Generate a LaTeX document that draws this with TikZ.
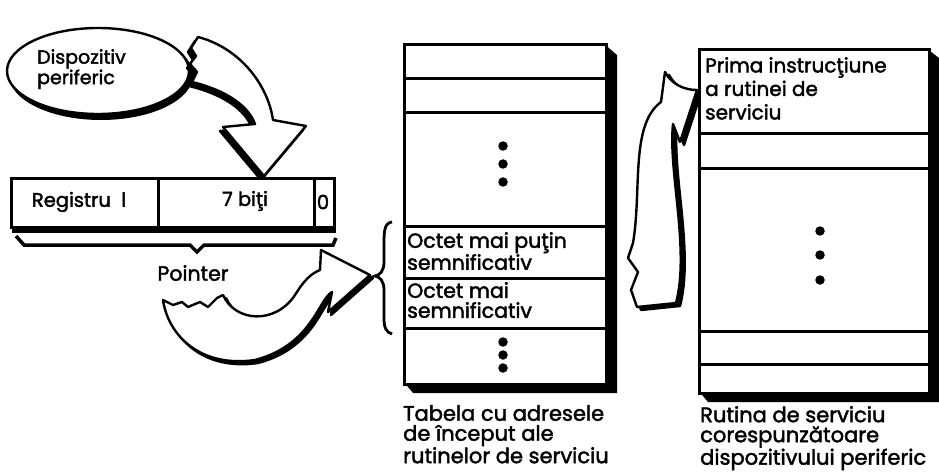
\documentclass[tikz,border=0pt]{standalone}
\usepackage{fontspec}
\setmainfont{Poppins}[FakeBold=2]
\begin{document}
\begin{tikzpicture}[x=1pt,y=-1pt,
  cell/.style={draw, line width=2.6pt, fill=white, inner sep=0pt, anchor=north west},
  txt/.style={inner sep=0pt, anchor=north west, align=left},
  bigtxt/.style={txt, font=\fontsize{20.5}{20}\selectfont},
  captxt/.style={txt, font=\fontsize{21}{20}\selectfont},
  dot/.style={fill=black, circle, inner sep=0pt, minimum size=9.5pt},
  hollow/.style={fill=white, draw=black, line width=2.4pt, line join=round},
  shadowfill/.style={fill=black, draw=black, line width=2.4pt, line join=round}]
\useasboundingbox (0,0) rectangle (939,473);

% ---------- device ellipse ----------
\fill[black] (101,75) ellipse [x radius=92, y radius=45];
\filldraw[fill=white, draw=black, line width=2.4pt] (98,71) ellipse [x radius=91, y radius=43];
\node[txt, font=\fontsize{19}{16}\selectfont] (dev) at (37,49) {Dispozitiv\\periferic};

% ---------- arrow device -> register ----------
\def\arrowA{(198,37) .. controls (240,48) and (268,85) .. (273,120) -- (306,126) -- (264,176) -- (223,127) -- (255,124) .. controls (248,105) and (225,90) .. (192,82) -- (197,72) -- (190,64) -- (196,56) -- (191,48) -- cycle}
\path[shadowfill] [shift={(-3,4)}] \arrowA;
\path[hollow] \arrowA;

% ---------- register ----------
\fill[black] (12,222) rectangle (336,233);
\node[cell, minimum width=147pt, minimum height=49pt] (reg1) at (10,177) {};
\node[cell, minimum width=156pt, minimum height=49pt] (reg2) at (157,177) {};
\node[cell, minimum width=20pt, minimum height=49pt] (reg3) at (313,177) {};
\node[font=\fontsize{19.5}{20}\selectfont, inner sep=0pt] (reg1t) at (79,202) {Registru\ \ l};
\node[font=\fontsize{19.5}{20}\selectfont, inner sep=0pt] (reg2t) at (245,201) {7 biţi};
\node[font=\fontsize{19.5}{20}\selectfont, inner sep=0pt] (reg3t) at (323,202) {0};

% ---------- pointer brace ----------
\draw[line width=3.5pt, line join=miter] (16,236) -- (24,245) -- (190,245) -- (197,252) -- (204,245) -- (333,245) -- (336,238);
\node[font=\fontsize{20.5}{20}\selectfont, inner sep=0pt] (ptr) at (193,273) {Pointer};

% ---------- arrow pointer -> brace ----------
\def\arrowB{(163,300) -- (173,305) -- (182,302) -- (188,307) -- (200,302) -- (208,307) -- (217,298) -- (223,295) .. controls (235,322) and (275,325) .. (295,295) .. controls (303,282) and (310,274) .. (320,270) -- (321,250) -- (370,275) -- (328,312) -- (332,292) .. controls (318,300) and (312,345) .. (255,360) .. controls (200,368) and (168,335) .. cycle}
\path[shadowfill] [shift={(3,3)}] \arrowB;
\path[hollow] \arrowB;

% ---------- left brace ----------
\draw[line width=2.8pt] (392,222) .. controls (384,223) and (384,232) .. (384,245) -- (384,262) .. controls (384,271) and (380,275) .. (375,276) .. controls (380,277) and (384,281) .. (384,290) -- (384,318) .. controls (384,328) and (386,332) .. (392,334);

% ---------- table ----------
\fill[black] (603,43) -- (617,55) -- (617,393) -- (413,393) -- (403,381) -- (603,381) -- cycle;
\node[cell, minimum width=202pt, minimum height=34pt] (t1) at (403,43) {};
\node[cell, minimum width=202pt, minimum height=34pt] (t2) at (403,77) {};
\node[cell, minimum width=202pt, minimum height=114pt] (t3) at (403,111) {};
\node[cell, minimum width=202pt, minimum height=52pt] (t4) at (403,225) {};
\node[cell, minimum width=202pt, minimum height=50pt] (t5) at (403,277) {};
\node[cell, minimum width=202pt, minimum height=56pt] (t6) at (403,327) {};
\node[dot] (d1) at (503,146) {};
\node[dot] (d2) at (503,164) {};
\node[dot] (d3) at (503,182) {};
\node[dot] (d4) at (503,342) {};
\node[dot] (d5) at (503,355) {};
\node[dot] (d6) at (503,368) {};
\node[bigtxt] (lo) at (407,232) {Octet mai puţin\\semnificativ};
\node[bigtxt] (hi) at (407,282) {Octet mai\\semnificativ};
\node[captxt] (tcap) at (403,405) {Tabela cu adresele\\de început ale\\rutinelor de serviciu};

% ---------- arrow table -> routine ----------
\def\arrowC{(661,102) -- (665,72) .. controls (672,85) and (685,90) .. (697,90) -- (680,142) -- (673,124) .. controls (668,170) and (690,250) .. (676,303) -- (637,307) -- (631,290) -- (638,272) -- (628,258) -- (633,243) .. controls (642,190) and (630,125) .. cycle}
\path[shadowfill] [shift={(4,3)}] \arrowC;
\path[hollow] \arrowC;

% ---------- routine ----------
\fill[black] (926,48) -- (939,58) -- (939,402) -- (708,402) -- (698,390) -- (926,390) -- cycle;
\node[cell, minimum width=230pt, minimum height=84pt] (r1) at (698,48) {};
\node[cell, minimum width=230pt, minimum height=35pt] (r2) at (698,132) {};
\node[cell, minimum width=230pt, minimum height=163pt] (r3) at (698,167) {};
\node[cell, minimum width=230pt, minimum height=33pt] (r4) at (698,330) {};
\node[cell, minimum width=230pt, minimum height=29pt] (r5) at (698,363) {};
\node[dot] (e1) at (820,231) {};
\node[dot] (e2) at (820,255) {};
\node[dot] (e3) at (820,280) {};
\node[txt, font=\fontsize{20}{23.5}\selectfont] (first) at (705,57) {Prima instrucţiune\\a rutinei de\\serviciu};
\node[captxt] (rcap) at (700,406) {Rutina de serviciu\\corespunzătoare\\dispozitivului periferic};
\end{tikzpicture}
\end{document}
